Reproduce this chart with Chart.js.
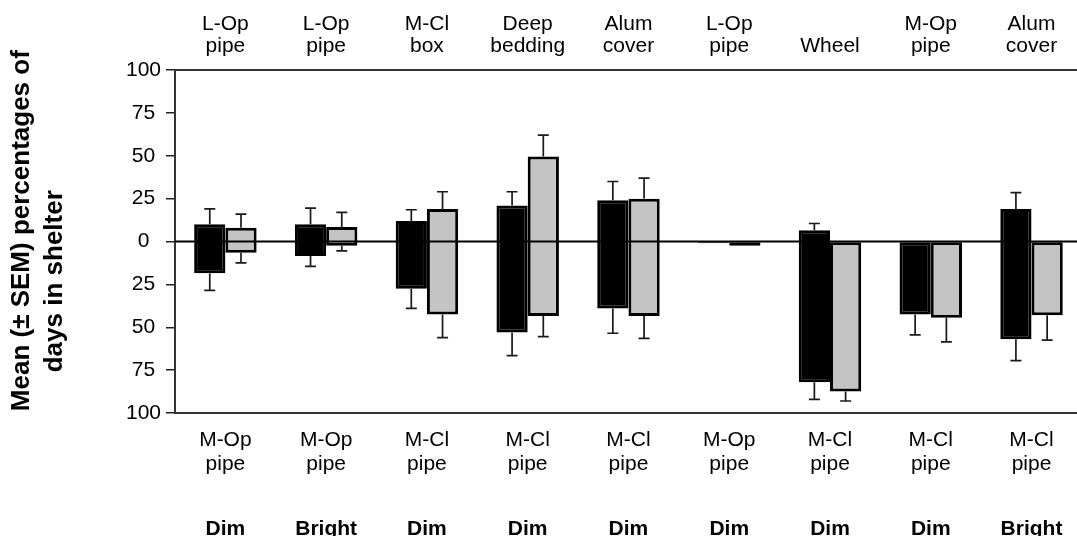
<!DOCTYPE html>
<html>
<head>
<meta charset="utf-8">
<script src="https://cdn.jsdelivr.net/npm/chart.js@4"></script>
<style>
  html, body { margin: 0; padding: 0; background: #fff; overflow: hidden; }
  #wrap { width: 1092px; height: 550px; position: relative; }
</style>
</head>
<body>
<div id="wrap"><canvas id="shelterChart"></canvas></div>
<script>
// Category labels
const topLabels = [['L-Op', 'pipe'], ['L-Op', 'pipe'], ['M-Cl', 'box'], ['Deep', 'bedding'], ['Alum', 'cover'],
                   ['L-Op', 'pipe'], 'Wheel', ['M-Op', 'pipe'], ['Alum', 'cover']];
const bottomLabels = [['M-Op', 'pipe'], ['M-Op', 'pipe'], ['M-Cl', 'pipe'], ['M-Cl', 'pipe'], ['M-Cl', 'pipe'],
                      ['M-Op', 'pipe'], ['M-Cl', 'pipe'], ['M-Cl', 'pipe'], ['M-Cl', 'pipe']];
const lightLabels = ['Dim', 'Bright', 'Dim', 'Dim', 'Dim', 'Dim', 'Dim', 'Dim', 'Bright'];

// Y ticks
const yTicks = [-100, -75, -50, -25, 0, 25, 50, 75, 100];

// Black bars: % days in upper shelter (up) and lower shelter (down), with SEM
const blackUp = [10, 10, 12, 21, 24, 0, 6.5, 0, 19];
const blackUpSem = [9, 9.5, 6.5, 8, 11, 0, 4, 0, 9.5];
const blackDown = [18.5, 8.5, 27.5, 53, 39, 1, 82, 42.5, 57];
const blackDownSem = [10, 6, 11.5, 13.5, 14.5, 0, 10, 12, 12.5];

// Gray bars
const grayUp = [8, 8.5, 19, 49.5, 25, 0, 0, 0, 0];
const grayUpSem = [8, 8.5, 10, 12.5, 12, 0, 0, 0, 0];
const grayDown = [6.5, 2.5, 42.5, 43.5, 43.5, 2.5, 87.5, 44.5, 43];
const grayDownSem = [6, 3, 13.5, 12, 13, 0, 5.5, 14, 14.5];

const semUp = [blackUpSem, grayUpSem];
const semDown = [blackDownSem, grayDownSem];

// Floating bars from -down to +up
const toRange = (up, down) => up.map((u, i) => [-down[i], u]);

const font = "'Liberation Sans', Arial, sans-serif";
Chart.defaults.color = '#000';
Chart.defaults.font.family = font;

// Error bars and the zero line
const errorBars = {
    id: 'errorBars',
    afterDatasetsDraw(chart) {
        const ctx = chart.ctx;
        const y = chart.scales.y;
        const area = chart.chartArea;
        ctx.save();
        ctx.strokeStyle = '#1a1a1a';
        ctx.lineWidth = 1.7;
        chart.data.datasets.forEach((ds, d) => {
            const meta = chart.getDatasetMeta(d);
            meta.data.forEach((bar, i) => {
                const range = ds.data[i];
                const ends = [[range[1], range[1] + semUp[d][i]], [range[0], range[0] - semDown[d][i]]];
                ends.forEach(([from, to]) => {
                    if (from === to) return;
                    const y0 = y.getPixelForValue(from);
                    const y1 = y.getPixelForValue(to);
                    ctx.beginPath();
                    ctx.moveTo(bar.x, y0);
                    ctx.lineTo(bar.x, y1);
                    ctx.moveTo(bar.x - 5.5, y1);
                    ctx.lineTo(bar.x + 5.5, y1);
                    ctx.stroke();
                });
            });
        });
        // zero line
        const yz = y.getPixelForValue(0);
        ctx.strokeStyle = '#000';
        ctx.lineWidth = 2;
        ctx.beginPath();
        ctx.moveTo(area.left, yz);
        ctx.lineTo(area.right, yz);
        ctx.stroke();
        ctx.restore();
    }
};

new Chart(document.getElementById('shelterChart'), {
    type: 'bar',
    data: {
        labels: bottomLabels,
        datasets: [
            {
                label: 'Black',
                data: toRange(blackUp, blackDown),
                backgroundColor: '#000',
                borderColor: '#000',
                borderWidth: 3,
                borderSkipped: false,
            },
            {
                label: 'Gray',
                data: toRange(grayUp, grayDown),
                backgroundColor: '#c4c4c4',
                borderColor: '#000',
                borderWidth: 3,
                borderSkipped: false,
            },
        ],
    },
    plugins: [errorBars],
    options: {
        responsive: true,
        maintainAspectRatio: false,
        animation: false,
        layout: { padding: { top: 0, right: 2, bottom: 0, left: 0 } },
        plugins: {
            legend: { display: false },
            tooltip: { enabled: false },
        },
        datasets: {
            bar: { barPercentage: 1, categoryPercentage: 0.62 },
        },
        scales: {
            x: {
                position: 'bottom',
                weight: 0,
                offset: true,
                afterFit: (s) => { s.height = 75; },
                grid: { display: false, drawTicks: false },
                border: { display: true, color: '#333', width: 2 },
                ticks: { autoSkip: false, maxRotation: 0, padding: 15.5, font: { size: 21, lineHeight: 1.13 } },
            },
            x3: {
                type: 'category',
                labels: lightLabels,
                position: 'bottom',
                weight: 1,
                offset: true,
                afterFit: (s) => { s.height = 62; },
                grid: { display: false, drawTicks: false },
                border: { display: false },
                ticks: { autoSkip: false, maxRotation: 0, padding: 29, font: { size: 21, weight: 'bold', lineHeight: 1.15 } },
            },
            x2: {
                type: 'category',
                labels: topLabels,
                position: 'top',
                offset: true,
                afterFit: (s) => { s.height = 70; },
                grid: { display: false, drawTicks: false },
                border: { display: true, color: '#333', width: 2 },
                ticks: { autoSkip: false, maxRotation: 0, padding: 13, font: { size: 21, lineHeight: 1.04 } },
            },
            y: {
                min: -100,
                max: 100,
                afterFit: (s) => { s.width = 175; },
                afterBuildTicks: (s) => { s.ticks = yTicks.map((v) => ({ value: v })); },
                grid: { drawOnChartArea: false, drawTicks: true, tickLength: 9, color: '#222', lineWidth: 1.5 },
                border: { display: true, color: '#333', width: 2 },
                ticks: {
                    padding: 5,
                    crossAlign: 'center',
                    font: { size: 21 },
                    callback: (v) => Math.abs(v),
                },
                title: {
                    display: true,
                    // spaces shift each line along the axis as in the original figure
                    text: ['   Mean (\u00b1 SEM) percentages of', 'days in shelter           '],
                    padding: { top: 6, bottom: 0 },
                    font: { size: 26, weight: 'bold', lineHeight: 1.25 },
                },
            },
        },
    },
});
</script>
</body>
</html>
